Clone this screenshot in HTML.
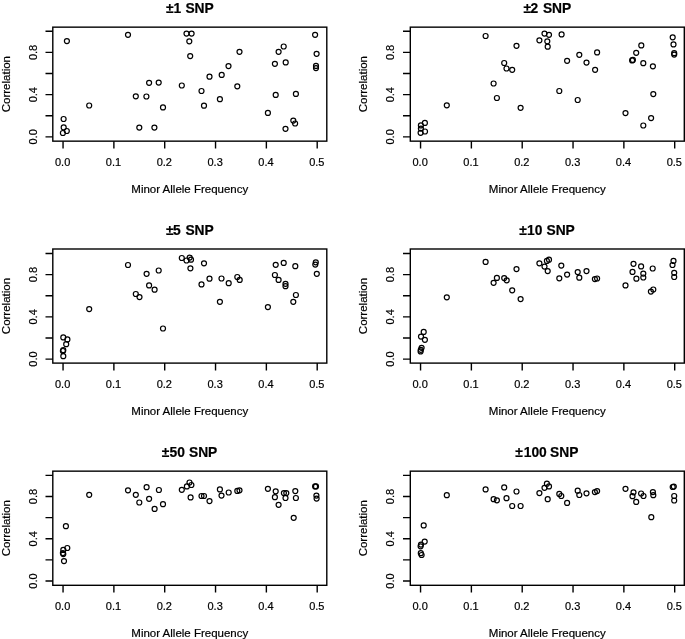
<!DOCTYPE html><html><head><meta charset="utf-8"><style>html,body{margin:0;padding:0;background:#fff;}svg{display:block;}text{font-family:"Liberation Sans",sans-serif;fill:#000;stroke:#000;stroke-width:0.2px;}svg{filter:blur(0.3px);}</style></head><body>
<svg width="685" height="639" viewBox="0 0 685 639">
<rect width="685" height="639" fill="#fff"/>
<rect x="52.8" y="27.15" width="274.0" height="114.0" fill="none" stroke="#000" stroke-width="1.4"/><path d="M63.05 141.15v7.3M113.88 141.15v7.3M164.71 141.15v7.3M215.54 141.15v7.3M266.37 141.15v7.3M317.20 141.15v7.3M52.8 31.30h-7.3M52.8 52.42h-7.3M52.8 73.54h-7.3M52.8 94.66h-7.3M52.8 115.78h-7.3M52.8 136.90h-7.3" stroke="#000" stroke-width="1.4" fill="none"/><text x="62.65" y="165.60" font-size="11.0" text-anchor="middle">0.0</text><text x="113.48" y="165.60" font-size="11.0" text-anchor="middle">0.1</text><text x="164.31" y="165.60" font-size="11.0" text-anchor="middle">0.2</text><text x="215.14" y="165.60" font-size="11.0" text-anchor="middle">0.3</text><text x="265.97" y="165.60" font-size="11.0" text-anchor="middle">0.4</text><text x="316.80" y="165.60" font-size="11.0" text-anchor="middle">0.5</text><text transform="translate(36.70 136.90) rotate(-90)" font-size="11.0" text-anchor="middle">0.0</text><text transform="translate(36.70 94.66) rotate(-90)" font-size="11.0" text-anchor="middle">0.4</text><text transform="translate(36.70 52.42) rotate(-90)" font-size="11.0" text-anchor="middle">0.8</text><text y="12.90" font-size="13.8" font-weight="bold"><tspan x="166.00">±</tspan><tspan x="173.60">1</tspan><tspan x="185.40">SNP</tspan></text><text x="189.80" y="192.80" font-size="11.5" text-anchor="middle">Minor Allele Frequency</text><text transform="translate(9.80 84.15) rotate(-90)" font-size="11.5" text-anchor="middle">Correlation</text><g fill="none" stroke="#000" stroke-width="1.2"><circle cx="66.9" cy="41.1" r="2.5"/><circle cx="128.0" cy="34.8" r="2.5"/><circle cx="186.5" cy="33.6" r="2.5"/><circle cx="191.6" cy="33.6" r="2.5"/><circle cx="189.3" cy="41.3" r="2.5"/><circle cx="190.2" cy="56.1" r="2.5"/><circle cx="149.1" cy="82.8" r="2.5"/><circle cx="158.7" cy="82.6" r="2.5"/><circle cx="181.8" cy="85.5" r="2.5"/><circle cx="135.8" cy="96.3" r="2.5"/><circle cx="146.4" cy="96.5" r="2.5"/><circle cx="89.2" cy="105.5" r="2.5"/><circle cx="163" cy="107.4" r="2.5"/><circle cx="63.6" cy="119" r="2.5"/><circle cx="63.7" cy="127.4" r="2.5"/><circle cx="62.9" cy="133.0" r="2.5"/><circle cx="66.8" cy="131.0" r="2.5"/><circle cx="139.3" cy="127.6" r="2.5"/><circle cx="154.4" cy="127.6" r="2.5"/><circle cx="239.5" cy="51.8" r="2.5"/><circle cx="228.5" cy="66.1" r="2.5"/><circle cx="209.5" cy="76.7" r="2.5"/><circle cx="221.7" cy="74.9" r="2.5"/><circle cx="237.3" cy="86.3" r="2.5"/><circle cx="201.5" cy="91" r="2.5"/><circle cx="219.9" cy="99.2" r="2.5"/><circle cx="204" cy="105.7" r="2.5"/><circle cx="315.1" cy="34.8" r="2.5"/><circle cx="283.7" cy="46.5" r="2.5"/><circle cx="278.6" cy="51.8" r="2.5"/><circle cx="274.9" cy="63.8" r="2.5"/><circle cx="285.7" cy="62.4" r="2.5"/><circle cx="316.6" cy="53.8" r="2.5"/><circle cx="316" cy="65.9" r="2.5"/><circle cx="316" cy="68.1" r="2.5"/><circle cx="275.7" cy="94.9" r="2.5"/><circle cx="295.9" cy="93.9" r="2.5"/><circle cx="267.9" cy="112.9" r="2.5"/><circle cx="293.3" cy="120.6" r="2.5"/><circle cx="295.1" cy="123.5" r="2.5"/><circle cx="285.5" cy="128.8" r="2.5"/></g>
<rect x="410.3" y="27.15" width="274.0" height="114.0" fill="none" stroke="#000" stroke-width="1.4"/><path d="M420.55 141.15v7.3M471.38 141.15v7.3M522.21 141.15v7.3M573.04 141.15v7.3M623.87 141.15v7.3M674.70 141.15v7.3M410.3 31.30h-7.3M410.3 52.42h-7.3M410.3 73.54h-7.3M410.3 94.66h-7.3M410.3 115.78h-7.3M410.3 136.90h-7.3" stroke="#000" stroke-width="1.4" fill="none"/><text x="420.15" y="165.60" font-size="11.0" text-anchor="middle">0.0</text><text x="470.98" y="165.60" font-size="11.0" text-anchor="middle">0.1</text><text x="521.81" y="165.60" font-size="11.0" text-anchor="middle">0.2</text><text x="572.64" y="165.60" font-size="11.0" text-anchor="middle">0.3</text><text x="623.47" y="165.60" font-size="11.0" text-anchor="middle">0.4</text><text x="674.30" y="165.60" font-size="11.0" text-anchor="middle">0.5</text><text transform="translate(394.20 136.90) rotate(-90)" font-size="11.0" text-anchor="middle">0.0</text><text transform="translate(394.20 94.66) rotate(-90)" font-size="11.0" text-anchor="middle">0.4</text><text transform="translate(394.20 52.42) rotate(-90)" font-size="11.0" text-anchor="middle">0.8</text><text y="12.90" font-size="13.8" font-weight="bold"><tspan x="523.50">±</tspan><tspan x="530.45">2</tspan><tspan x="542.90">SNP</tspan></text><text x="547.30" y="192.80" font-size="11.5" text-anchor="middle">Minor Allele Frequency</text><text transform="translate(367.30 84.15) rotate(-90)" font-size="11.5" text-anchor="middle">Correlation</text><g fill="none" stroke="#000" stroke-width="1.2"><circle cx="485.6" cy="36.0" r="2.5"/><circle cx="544.5" cy="33.6" r="2.5"/><circle cx="549" cy="34.8" r="2.5"/><circle cx="539.4" cy="40.3" r="2.5"/><circle cx="547.3" cy="41.3" r="2.5"/><circle cx="547.7" cy="46.7" r="2.5"/><circle cx="516.5" cy="45.8" r="2.5"/><circle cx="504.2" cy="63" r="2.5"/><circle cx="506.5" cy="68.5" r="2.5"/><circle cx="512.2" cy="69.8" r="2.5"/><circle cx="493.6" cy="83.5" r="2.5"/><circle cx="496.9" cy="98" r="2.5"/><circle cx="446.8" cy="105.3" r="2.5"/><circle cx="520.6" cy="107.8" r="2.5"/><circle cx="424.9" cy="122.9" r="2.5"/><circle cx="420.9" cy="125.4" r="2.5"/><circle cx="420.9" cy="128.6" r="2.5"/><circle cx="420.6" cy="132.8" r="2.5"/><circle cx="425.0" cy="131.5" r="2.5"/><circle cx="561.6" cy="34.4" r="2.5"/><circle cx="567.1" cy="60.8" r="2.5"/><circle cx="579.3" cy="54.8" r="2.5"/><circle cx="586.5" cy="62.6" r="2.5"/><circle cx="597.1" cy="52.4" r="2.5"/><circle cx="595.1" cy="69.8" r="2.5"/><circle cx="559.3" cy="91" r="2.5"/><circle cx="577.7" cy="100" r="2.5"/><circle cx="672.7" cy="37.3" r="2.5"/><circle cx="673.5" cy="44.4" r="2.5"/><circle cx="674.2" cy="53.2" r="2.5"/><circle cx="674.2" cy="54.6" r="2.5"/><circle cx="641.3" cy="45.4" r="2.5"/><circle cx="636.2" cy="52.8" r="2.5"/><circle cx="632.9" cy="59.9" r="2.5"/><circle cx="632.1" cy="60.4" r="2.5"/><circle cx="643.3" cy="63.2" r="2.5"/><circle cx="652.9" cy="66.3" r="2.5"/><circle cx="653.3" cy="94.1" r="2.5"/><circle cx="625.5" cy="113.1" r="2.5"/><circle cx="651.1" cy="118.1" r="2.5"/><circle cx="643.3" cy="125.5" r="2.5"/></g>
<rect x="52.8" y="249.0" width="274.0" height="114.10000000000002" fill="none" stroke="#000" stroke-width="1.4"/><path d="M63.05 363.1v7.3M113.88 363.1v7.3M164.71 363.1v7.3M215.54 363.1v7.3M266.37 363.1v7.3M317.20 363.1v7.3M52.8 253.50h-7.3M52.8 274.62h-7.3M52.8 295.74h-7.3M52.8 316.86h-7.3M52.8 337.98h-7.3M52.8 359.10h-7.3" stroke="#000" stroke-width="1.4" fill="none"/><text x="62.65" y="387.55" font-size="11.0" text-anchor="middle">0.0</text><text x="113.48" y="387.55" font-size="11.0" text-anchor="middle">0.1</text><text x="164.31" y="387.55" font-size="11.0" text-anchor="middle">0.2</text><text x="215.14" y="387.55" font-size="11.0" text-anchor="middle">0.3</text><text x="265.97" y="387.55" font-size="11.0" text-anchor="middle">0.4</text><text x="316.80" y="387.55" font-size="11.0" text-anchor="middle">0.5</text><text transform="translate(36.70 359.10) rotate(-90)" font-size="11.0" text-anchor="middle">0.0</text><text transform="translate(36.70 316.86) rotate(-90)" font-size="11.0" text-anchor="middle">0.4</text><text transform="translate(36.70 274.62) rotate(-90)" font-size="11.0" text-anchor="middle">0.8</text><text y="234.75" font-size="13.8" font-weight="bold"><tspan x="166.00">±</tspan><tspan x="172.95">5</tspan><tspan x="185.40">SNP</tspan></text><text x="189.80" y="414.75" font-size="11.5" text-anchor="middle">Minor Allele Frequency</text><text transform="translate(9.80 306.05) rotate(-90)" font-size="11.5" text-anchor="middle">Correlation</text><g fill="none" stroke="#000" stroke-width="1.2"><circle cx="128.0" cy="265" r="2.5"/><circle cx="181.8" cy="258" r="2.5"/><circle cx="186.5" cy="260.5" r="2.5"/><circle cx="189.7" cy="257.6" r="2.5"/><circle cx="191" cy="259.7" r="2.5"/><circle cx="190.4" cy="268.3" r="2.5"/><circle cx="146.6" cy="273.8" r="2.5"/><circle cx="158.7" cy="270.5" r="2.5"/><circle cx="149.1" cy="285.4" r="2.5"/><circle cx="154.6" cy="289.7" r="2.5"/><circle cx="135.8" cy="294" r="2.5"/><circle cx="139.5" cy="297.1" r="2.5"/><circle cx="89.2" cy="309.1" r="2.5"/><circle cx="163" cy="328.5" r="2.5"/><circle cx="63.3" cy="337.4" r="2.5"/><circle cx="67.4" cy="339.4" r="2.5"/><circle cx="66.2" cy="344.2" r="2.5"/><circle cx="63.3" cy="350.2" r="2.5"/><circle cx="62.9" cy="351" r="2.5"/><circle cx="63.3" cy="356.2" r="2.5"/><circle cx="204" cy="263.3" r="2.5"/><circle cx="209.5" cy="278.7" r="2.5"/><circle cx="201.5" cy="284.4" r="2.5"/><circle cx="221.5" cy="278.5" r="2.5"/><circle cx="228.7" cy="283.2" r="2.5"/><circle cx="237.3" cy="277" r="2.5"/><circle cx="239.7" cy="279.9" r="2.5"/><circle cx="219.9" cy="301.8" r="2.5"/><circle cx="275.7" cy="264.8" r="2.5"/><circle cx="283.7" cy="262.9" r="2.5"/><circle cx="295.3" cy="266.2" r="2.5"/><circle cx="274.9" cy="275" r="2.5"/><circle cx="278.6" cy="279.9" r="2.5"/><circle cx="285.5" cy="283.8" r="2.5"/><circle cx="285.5" cy="286.2" r="2.5"/><circle cx="295.9" cy="295" r="2.5"/><circle cx="293.3" cy="301.8" r="2.5"/><circle cx="267.9" cy="307.1" r="2.5"/><circle cx="315.8" cy="262.3" r="2.5"/><circle cx="315.3" cy="264.6" r="2.5"/><circle cx="316.8" cy="273.8" r="2.5"/></g>
<rect x="410.3" y="249.0" width="274.0" height="114.10000000000002" fill="none" stroke="#000" stroke-width="1.4"/><path d="M420.55 363.1v7.3M471.38 363.1v7.3M522.21 363.1v7.3M573.04 363.1v7.3M623.87 363.1v7.3M674.70 363.1v7.3M410.3 253.50h-7.3M410.3 274.62h-7.3M410.3 295.74h-7.3M410.3 316.86h-7.3M410.3 337.98h-7.3M410.3 359.10h-7.3" stroke="#000" stroke-width="1.4" fill="none"/><text x="420.15" y="387.55" font-size="11.0" text-anchor="middle">0.0</text><text x="470.98" y="387.55" font-size="11.0" text-anchor="middle">0.1</text><text x="521.81" y="387.55" font-size="11.0" text-anchor="middle">0.2</text><text x="572.64" y="387.55" font-size="11.0" text-anchor="middle">0.3</text><text x="623.47" y="387.55" font-size="11.0" text-anchor="middle">0.4</text><text x="674.30" y="387.55" font-size="11.0" text-anchor="middle">0.5</text><text transform="translate(394.20 359.10) rotate(-90)" font-size="11.0" text-anchor="middle">0.0</text><text transform="translate(394.20 316.86) rotate(-90)" font-size="11.0" text-anchor="middle">0.4</text><text transform="translate(394.20 274.62) rotate(-90)" font-size="11.0" text-anchor="middle">0.8</text><text y="234.75" font-size="13.8" font-weight="bold"><tspan x="519.30">±</tspan><tspan x="527.05">10</tspan><tspan x="546.45">SNP</tspan></text><text x="547.30" y="414.75" font-size="11.5" text-anchor="middle">Minor Allele Frequency</text><text transform="translate(367.30 306.05) rotate(-90)" font-size="11.5" text-anchor="middle">Correlation</text><g fill="none" stroke="#000" stroke-width="1.2"><circle cx="485.6" cy="261.9" r="2.5"/><circle cx="539.4" cy="263.3" r="2.5"/><circle cx="544.5" cy="266.6" r="2.5"/><circle cx="546.9" cy="260.9" r="2.5"/><circle cx="549" cy="259.7" r="2.5"/><circle cx="547.7" cy="271.1" r="2.5"/><circle cx="516.5" cy="269.1" r="2.5"/><circle cx="496.9" cy="277.9" r="2.5"/><circle cx="493.6" cy="282.8" r="2.5"/><circle cx="504.2" cy="278.1" r="2.5"/><circle cx="506.7" cy="280.3" r="2.5"/><circle cx="512.2" cy="290.3" r="2.5"/><circle cx="520.6" cy="299.1" r="2.5"/><circle cx="446.8" cy="297.3" r="2.5"/><circle cx="423.7" cy="331.9" r="2.5"/><circle cx="421" cy="336.6" r="2.5"/><circle cx="424.9" cy="339.8" r="2.5"/><circle cx="421.6" cy="347.8" r="2.5"/><circle cx="420.8" cy="349.8" r="2.5"/><circle cx="420.6" cy="351.4" r="2.5"/><circle cx="561.3" cy="265.6" r="2.5"/><circle cx="567.1" cy="274.6" r="2.5"/><circle cx="559.3" cy="278.3" r="2.5"/><circle cx="577.7" cy="272.1" r="2.5"/><circle cx="579.3" cy="277.7" r="2.5"/><circle cx="586.5" cy="271.1" r="2.5"/><circle cx="594.9" cy="279.1" r="2.5"/><circle cx="597.1" cy="278.5" r="2.5"/><circle cx="633.5" cy="263.8" r="2.5"/><circle cx="641.1" cy="266.4" r="2.5"/><circle cx="652.7" cy="268.5" r="2.5"/><circle cx="632.5" cy="271.9" r="2.5"/><circle cx="643.3" cy="273.6" r="2.5"/><circle cx="636.4" cy="278.7" r="2.5"/><circle cx="643.3" cy="277.5" r="2.5"/><circle cx="625.5" cy="285.4" r="2.5"/><circle cx="653.3" cy="289.5" r="2.5"/><circle cx="650.9" cy="291.6" r="2.5"/><circle cx="673.5" cy="260.9" r="2.5"/><circle cx="672.5" cy="265" r="2.5"/><circle cx="674.2" cy="272.8" r="2.5"/><circle cx="674.2" cy="277" r="2.5"/></g>
<rect x="52.8" y="471.15" width="274.0" height="114.14999999999998" fill="none" stroke="#000" stroke-width="1.4"/><path d="M63.05 585.3v7.3M113.88 585.3v7.3M164.71 585.3v7.3M215.54 585.3v7.3M266.37 585.3v7.3M317.20 585.3v7.3M52.8 475.40h-7.3M52.8 496.52h-7.3M52.8 517.64h-7.3M52.8 538.76h-7.3M52.8 559.88h-7.3M52.8 581.00h-7.3" stroke="#000" stroke-width="1.4" fill="none"/><text x="62.65" y="609.75" font-size="11.0" text-anchor="middle">0.0</text><text x="113.48" y="609.75" font-size="11.0" text-anchor="middle">0.1</text><text x="164.31" y="609.75" font-size="11.0" text-anchor="middle">0.2</text><text x="215.14" y="609.75" font-size="11.0" text-anchor="middle">0.3</text><text x="265.97" y="609.75" font-size="11.0" text-anchor="middle">0.4</text><text x="316.80" y="609.75" font-size="11.0" text-anchor="middle">0.5</text><text transform="translate(36.70 581.00) rotate(-90)" font-size="11.0" text-anchor="middle">0.0</text><text transform="translate(36.70 538.76) rotate(-90)" font-size="11.0" text-anchor="middle">0.4</text><text transform="translate(36.70 496.52) rotate(-90)" font-size="11.0" text-anchor="middle">0.8</text><text y="456.90" font-size="13.8" font-weight="bold"><tspan x="161.80">±</tspan><tspan x="169.55">50</tspan><tspan x="188.95">SNP</tspan></text><text x="189.80" y="636.95" font-size="11.5" text-anchor="middle">Minor Allele Frequency</text><text transform="translate(9.80 528.22) rotate(-90)" font-size="11.5" text-anchor="middle">Correlation</text><g fill="none" stroke="#000" stroke-width="1.2"><circle cx="89.2" cy="494.8" r="2.5"/><circle cx="128" cy="490.3" r="2.5"/><circle cx="135.8" cy="494.8" r="2.5"/><circle cx="139.3" cy="502.5" r="2.5"/><circle cx="146.6" cy="487.2" r="2.5"/><circle cx="149.1" cy="498.8" r="2.5"/><circle cx="154.6" cy="508.9" r="2.5"/><circle cx="158.9" cy="490" r="2.5"/><circle cx="163" cy="504.2" r="2.5"/><circle cx="181.8" cy="489.8" r="2.5"/><circle cx="186.9" cy="486.4" r="2.5"/><circle cx="189.5" cy="482.5" r="2.5"/><circle cx="191.4" cy="485" r="2.5"/><circle cx="190.6" cy="497.4" r="2.5"/><circle cx="65.9" cy="526.2" r="2.5"/><circle cx="63.3" cy="549.9" r="2.5"/><circle cx="67.3" cy="548" r="2.5"/><circle cx="62.9" cy="553.1" r="2.5"/><circle cx="63.3" cy="554.1" r="2.5"/><circle cx="64" cy="561.1" r="2.5"/><circle cx="201.5" cy="496" r="2.5"/><circle cx="204" cy="496" r="2.5"/><circle cx="209.5" cy="501.1" r="2.5"/><circle cx="219.9" cy="489.4" r="2.5"/><circle cx="221.5" cy="495.6" r="2.5"/><circle cx="228.7" cy="492.5" r="2.5"/><circle cx="237.3" cy="490.9" r="2.5"/><circle cx="239.5" cy="490.3" r="2.5"/><circle cx="267.9" cy="488.8" r="2.5"/><circle cx="275.7" cy="491.3" r="2.5"/><circle cx="274.9" cy="497.2" r="2.5"/><circle cx="278.6" cy="504.8" r="2.5"/><circle cx="283.9" cy="493.1" r="2.5"/><circle cx="286.3" cy="493.1" r="2.5"/><circle cx="285.5" cy="498" r="2.5"/><circle cx="295.3" cy="491.1" r="2.5"/><circle cx="295.9" cy="498" r="2.5"/><circle cx="293.7" cy="517.8" r="2.5"/><circle cx="315.1" cy="486.4" r="2.5"/><circle cx="316" cy="486.4" r="2.5"/><circle cx="316.4" cy="495.6" r="2.5"/><circle cx="316.6" cy="498.6" r="2.5"/></g>
<rect x="410.3" y="471.15" width="274.0" height="114.14999999999998" fill="none" stroke="#000" stroke-width="1.4"/><path d="M420.55 585.3v7.3M471.38 585.3v7.3M522.21 585.3v7.3M573.04 585.3v7.3M623.87 585.3v7.3M674.70 585.3v7.3M410.3 475.40h-7.3M410.3 496.52h-7.3M410.3 517.64h-7.3M410.3 538.76h-7.3M410.3 559.88h-7.3M410.3 581.00h-7.3" stroke="#000" stroke-width="1.4" fill="none"/><text x="420.15" y="609.75" font-size="11.0" text-anchor="middle">0.0</text><text x="470.98" y="609.75" font-size="11.0" text-anchor="middle">0.1</text><text x="521.81" y="609.75" font-size="11.0" text-anchor="middle">0.2</text><text x="572.64" y="609.75" font-size="11.0" text-anchor="middle">0.3</text><text x="623.47" y="609.75" font-size="11.0" text-anchor="middle">0.4</text><text x="674.30" y="609.75" font-size="11.0" text-anchor="middle">0.5</text><text transform="translate(394.20 581.00) rotate(-90)" font-size="11.0" text-anchor="middle">0.0</text><text transform="translate(394.20 538.76) rotate(-90)" font-size="11.0" text-anchor="middle">0.4</text><text transform="translate(394.20 496.52) rotate(-90)" font-size="11.0" text-anchor="middle">0.8</text><text y="456.90" font-size="13.8" font-weight="bold"><tspan x="515.25">±</tspan><tspan x="523.75">100</tspan><tspan x="550.05">SNP</tspan></text><text x="547.30" y="636.95" font-size="11.5" text-anchor="middle">Minor Allele Frequency</text><text transform="translate(367.30 528.22) rotate(-90)" font-size="11.5" text-anchor="middle">Correlation</text><g fill="none" stroke="#000" stroke-width="1.2"><circle cx="446.8" cy="495.2" r="2.5"/><circle cx="485.6" cy="489.4" r="2.5"/><circle cx="493.6" cy="499.2" r="2.5"/><circle cx="496.9" cy="500.3" r="2.5"/><circle cx="504.2" cy="487.4" r="2.5"/><circle cx="506.5" cy="498.2" r="2.5"/><circle cx="512.2" cy="506" r="2.5"/><circle cx="516.5" cy="491.5" r="2.5"/><circle cx="520.6" cy="506" r="2.5"/><circle cx="539.4" cy="493.1" r="2.5"/><circle cx="544.5" cy="487.8" r="2.5"/><circle cx="546.9" cy="483.7" r="2.5"/><circle cx="549" cy="486.4" r="2.5"/><circle cx="547.7" cy="499.2" r="2.5"/><circle cx="423.7" cy="525.4" r="2.5"/><circle cx="424.7" cy="541.6" r="2.5"/><circle cx="421" cy="544.6" r="2.5"/><circle cx="420.6" cy="546.3" r="2.5"/><circle cx="420.8" cy="553.2" r="2.5"/><circle cx="421.6" cy="555" r="2.5"/><circle cx="559.3" cy="493.9" r="2.5"/><circle cx="561.3" cy="496" r="2.5"/><circle cx="567.1" cy="502.9" r="2.5"/><circle cx="577.7" cy="490.7" r="2.5"/><circle cx="579.3" cy="495" r="2.5"/><circle cx="586.5" cy="493.3" r="2.5"/><circle cx="594.9" cy="492.1" r="2.5"/><circle cx="597.1" cy="491.1" r="2.5"/><circle cx="625.5" cy="488.8" r="2.5"/><circle cx="633.5" cy="492.3" r="2.5"/><circle cx="632.5" cy="496.2" r="2.5"/><circle cx="636.2" cy="501.9" r="2.5"/><circle cx="641.1" cy="493.5" r="2.5"/><circle cx="643.5" cy="496" r="2.5"/><circle cx="652.9" cy="492.1" r="2.5"/><circle cx="653.3" cy="495.2" r="2.5"/><circle cx="651.3" cy="517.2" r="2.5"/><circle cx="672.7" cy="487" r="2.5"/><circle cx="673.8" cy="486.6" r="2.5"/><circle cx="674.2" cy="496" r="2.5"/><circle cx="674.2" cy="500.5" r="2.5"/></g>
</svg></body></html>
